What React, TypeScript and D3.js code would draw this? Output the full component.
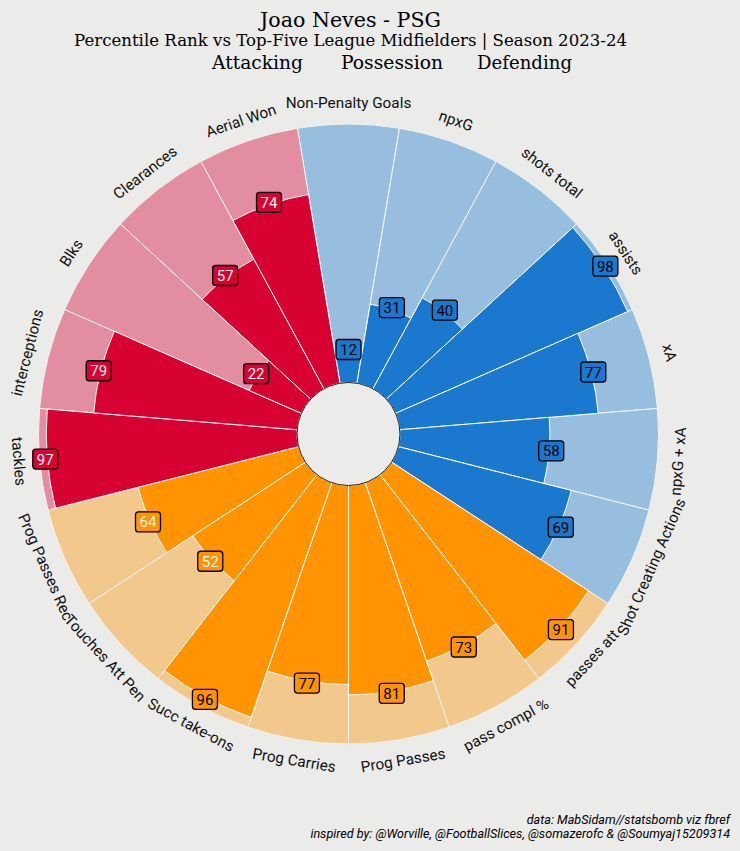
import * as d3 from "d3";
import { useEffect, useRef } from "react";

// parameters and percentile values, clockwise from the top
const params = [
  "Non-Penalty Goals", "npxG", "shots total", "assists", "xA", "npxG + xA",
  "Shot Creating Actions", "passes att", "pass compl %", "Prog Passes",
  "Prog Carries", "Succ take-ons", "Touches Att Pen", "Prog Passes Rec",
  "tackles", "interceptions", "Blks", "Clearances", "Aerial Won",
];
const values = [12, 31, 40, 98, 77, 58, 69, 91, 73, 81, 77, 96, 52, 64, 97, 79, 22, 57, 74];
const groups = [
  "Attacking", "Attacking", "Attacking", "Attacking", "Attacking", "Attacking", "Attacking",
  "Possession", "Possession", "Possession", "Possession", "Possession", "Possession", "Possession",
  "Defending", "Defending", "Defending", "Defending", "Defending",
];
const valueTextColors = [
  "#000000", "#000000", "#000000", "#000000", "#000000", "#000000", "#000000",
  "#000000", "#000000", "#000000", "#000000", "#000000", "#F2F2F2", "#F2F2F2",
  "#F2F2F2", "#F2F2F2", "#F2F2F2", "#F2F2F2", "#F2F2F2",
];
const groupNames = ["Attacking", "Possession", "Defending"];
const groupColors = ["#1A78CF", "#FF9300", "#D70232"];

const BG = "#EBEBE9";

function App() {
  const ref = useRef<SVGSVGElement | null>(null);

  useEffect(() => {
    const width = 740, height = 851;
    const cx = 348.5, cy = 434;
    const inner = 51.5, outer = 310, labelR = 331;

    const svg = d3.select(ref.current);
    svg.selectAll("*").remove();
    svg.attr("width", width).attr("height", height);

    svg.append("rect").attr("width", width).attr("height", height).attr("fill", BG);

    const color = d3.scaleOrdinal<string, string>().domain(groupNames).range(groupColors);
    const light = (g: string) => d3.interpolateRgb(BG, color(g))(0.4);

    const step = (2 * Math.PI) / params.length;
    const angle = d3.scaleBand<string>()
      .domain(params)
      .range([-step / 2, 2 * Math.PI - step / 2]);
    const r = d3.scaleLinear().domain([0, 100]).range([inner, outer]);

    const g = svg.append("g").attr("transform", `translate(${cx},${cy})`);

    const arc = d3.arc<any>()
      .startAngle((d) => angle(d.p)!)
      .endAngle((d) => angle(d.p)! + angle.bandwidth())
      .innerRadius(inner)
      .outerRadius((d) => d.r);

    const rows = params.map((p, i) => ({ p, v: values[i], grp: groups[i], tc: valueTextColors[i] }));

    // background slices
    g.selectAll("path.bg")
      .data(rows)
      .enter()
      .append("path")
      .attr("class", "bg")
      .attr("d", (d) => arc({ p: d.p, r: outer }))
      .attr("fill", (d) => light(d.grp))
      .attr("stroke", "#F4F4F2")
      .attr("stroke-width", 1);

    // value slices
    g.selectAll("path.val")
      .data(rows)
      .enter()
      .append("path")
      .attr("class", "val")
      .attr("d", (d) => arc({ p: d.p, r: r(d.v) }))
      .attr("fill", (d) => color(d.grp))
      .attr("stroke", "#FFFFFF")
      .attr("stroke-width", 1);

    // inner circle
    g.append("circle")
      .attr("r", inner)
      .attr("fill", BG)
      .attr("stroke", "#222222")
      .attr("stroke-width", 1);

    const mid = (p: string) => angle(p)! + angle.bandwidth() / 2;

    // param labels
    g.selectAll("text.param")
      .data(rows)
      .enter()
      .append("text")
      .attr("class", "param")
      .attr("transform", (d) => {
        const a = mid(d.p);
        const deg = (a * 180) / Math.PI;
        const rot = deg > 90 && deg < 270 ? deg - 180 : deg > 270 ? deg - 360 : deg;
        const x = labelR * Math.sin(a), y = -labelR * Math.cos(a);
        return `translate(${x},${y}) rotate(${rot})`;
      })
      .attr("text-anchor", "middle")
      .attr("dominant-baseline", "central")
      .attr("font-family", "Roboto")
      .attr("font-size", 15.3)
      .attr("fill", "#111111")
      .text((d) => d.p);

    // value boxes
    const box = g.selectAll("g.value")
      .data(rows)
      .enter()
      .append("g")
      .attr("class", "value")
      .attr("transform", (d) => {
        const a = mid(d.p);
        const rv = r(d.v) + 2;
        return `translate(${rv * Math.sin(a)},${-rv * Math.cos(a)})`;
      });

    box.append("rect")
      .attr("x", -12.5)
      .attr("y", -10)
      .attr("width", 25)
      .attr("height", 20)
      .attr("rx", 3)
      .attr("fill", (d) => color(d.grp))
      .attr("stroke", "#000000")
      .attr("stroke-width", 1.3);

    box.append("text")
      .attr("text-anchor", "middle")
      .attr("dominant-baseline", "central")
      .attr("y", 0.5)
      .attr("font-family", "Roboto")
      .attr("font-size", 15)
      .attr("fill", (d) => d.tc)
      .text((d) => d.v);

    // titles
    const serif = "'Roboto Slab', 'DejaVu Serif', serif";
    svg.append("text")
      .attr("x", 350.5).attr("y", 27)
      .attr("text-anchor", "middle")
      .attr("font-family", serif).attr("font-size", 20)
      .attr("textLength", 181).attr("lengthAdjust", "spacingAndGlyphs")
      .attr("fill", "#000000")
      .text("Joao Neves - PSG");

    svg.append("text")
      .attr("x", 350.5).attr("y", 46)
      .attr("text-anchor", "middle")
      .attr("font-family", serif).attr("font-size", 16.5)
      .attr("textLength", 553).attr("lengthAdjust", "spacingAndGlyphs")
      .attr("fill", "#000000")
      .text("Percentile Rank vs Top-Five League Midfielders | Season 2023-24");

    const cats = [
      { t: "Attacking", x: 257.5, w: 91 },
      { t: "Possession", x: 392, w: 102 },
      { t: "Defending", x: 524.5, w: 95 },
    ];
    svg.selectAll("text.cat")
      .data(cats)
      .enter()
      .append("text")
      .attr("class", "cat")
      .attr("x", (d) => d.x).attr("y", 69)
      .attr("text-anchor", "middle")
      .attr("font-family", serif).attr("font-size", 19)
      .attr("textLength", (d) => d.w).attr("lengthAdjust", "spacingAndGlyphs")
      .attr("fill", "#000000")
      .text((d) => d.t);

    // credits
    const credits = [
      "data: MabSidam//statsbomb viz fbref",
      "inspired by: @Worville, @FootballSlices, @somazerofc & @Soumyaj15209314",
    ];
    svg.selectAll("text.credit")
      .data(credits)
      .enter()
      .append("text")
      .attr("class", "credit")
      .attr("x", 730)
      .attr("y", (d, i) => 824 + i * 14)
      .attr("text-anchor", "end")
      .attr("font-family", "Roboto")
      .attr("font-style", "italic")
      .attr("font-size", 12.6)
      .attr("fill", "#000000")
      .text((d) => d);
  }, []);

  return (
    <svg ref={ref} style={{ position: "absolute", left: 0, top: 0, display: "block" }}></svg>
  );
}

export default App;
